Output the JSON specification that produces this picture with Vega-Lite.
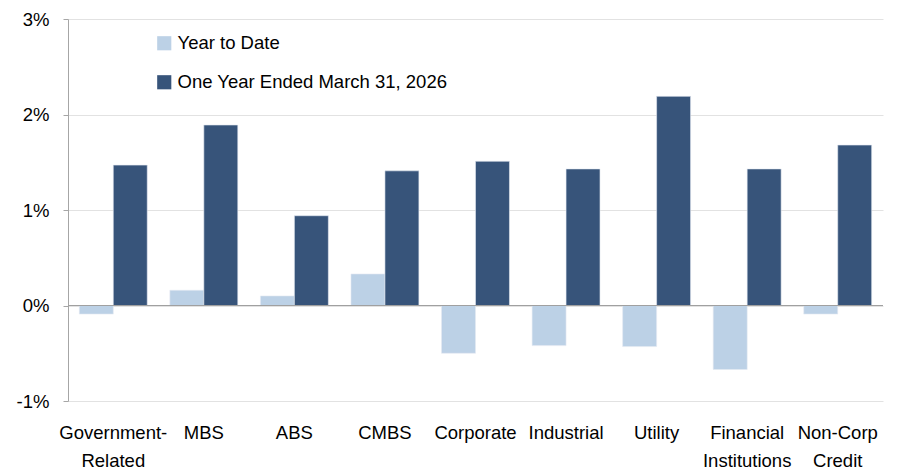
{
  "$schema": "https://vega.github.io/schema/vega-lite/v6.json",
  "autosize": "none",
  "width": 815,
  "height": 382,
  "padding": {"left": 68, "top": 19, "right": 17, "bottom": 71},
  "background": "white",
  "config": {
    "view": {"stroke": null},
    "font": "Liberation Sans",
    "axis": {"labelFont": "Liberation Sans", "labelColor": "#000000"},
    "legend": {"labelFont": "Liberation Sans"}
  },
  "data": {
    "values": [
      {"category": "Government-Related", "series": "Year to Date", "value": -0.09},
      {"category": "Government-Related", "series": "One Year Ended March 31, 2026", "value": 1.47},
      {"category": "MBS", "series": "Year to Date", "value": 0.16},
      {"category": "MBS", "series": "One Year Ended March 31, 2026", "value": 1.89},
      {"category": "ABS", "series": "Year to Date", "value": 0.10},
      {"category": "ABS", "series": "One Year Ended March 31, 2026", "value": 0.94},
      {"category": "CMBS", "series": "Year to Date", "value": 0.33},
      {"category": "CMBS", "series": "One Year Ended March 31, 2026", "value": 1.41},
      {"category": "Corporate", "series": "Year to Date", "value": -0.50},
      {"category": "Corporate", "series": "One Year Ended March 31, 2026", "value": 1.51},
      {"category": "Industrial", "series": "Year to Date", "value": -0.42},
      {"category": "Industrial", "series": "One Year Ended March 31, 2026", "value": 1.43},
      {"category": "Utility", "series": "Year to Date", "value": -0.43},
      {"category": "Utility", "series": "One Year Ended March 31, 2026", "value": 2.19},
      {"category": "Financial Institutions", "series": "Year to Date", "value": -0.67},
      {"category": "Financial Institutions", "series": "One Year Ended March 31, 2026", "value": 1.43},
      {"category": "Non-Corp Credit", "series": "Year to Date", "value": -0.09},
      {"category": "Non-Corp Credit", "series": "One Year Ended March 31, 2026", "value": 1.68}
    ]
  },
  "layer": [
    {
      "mark": {"type": "bar", "stroke": "#e4eaf1", "strokeWidth": 0.6},
      "encoding": {
        "x": {
          "field": "category",
          "type": "nominal",
          "sort": ["Government-Related", "MBS", "ABS", "CMBS", "Corporate", "Industrial", "Utility", "Financial Institutions", "Non-Corp Credit"],
          "scale": {"paddingInner": 0.25, "paddingOuter": 0.125},
          "axis": {
            "title": null,
            "domain": false,
            "ticks": false,
            "labelAngle": 0,
            "labelFontSize": 18.5,
            "labelPadding": 22,
            "labelLineHeight": 28,
            "labelBaseline": "top",
            "labelLimit": 0,
            "labelExpr": "datum.label == 'Government-Related' ? ['Government-', 'Related'] : datum.label == 'Financial Institutions' ? ['Financial', 'Institutions'] : datum.label == 'Non-Corp Credit' ? ['Non-Corp', 'Credit'] : datum.label"
          }
        },
        "xOffset": {
          "field": "series",
          "type": "nominal",
          "sort": ["Year to Date", "One Year Ended March 31, 2026"]
        },
        "y": {
          "field": "value",
          "type": "quantitative",
          "scale": {"domain": [-1, 3], "nice": false, "zero": false},
          "axis": {
            "title": null,
            "values": [-1, 0, 1, 2, 3],
            "labelExpr": "datum.value + '%'",
            "labelFontSize": 18.5,
            "labelPadding": 14,
            "tickSize": 5,
            "tickColor": "#a6a6a6",
            "domainColor": "#a6a6a6",
            "gridColor": "#e2e2e2",
            "grid": true
          }
        },
        "color": {
          "field": "series",
          "type": "nominal",
          "sort": ["Year to Date", "One Year Ended March 31, 2026"],
          "scale": {
            "domain": ["Year to Date", "One Year Ended March 31, 2026"],
            "range": ["#bcd1e6", "#37547a"]
          },
          "legend": {
            "title": null,
            "orient": "none",
            "legendX": 87,
            "legendY": 15,
            "symbolType": "square",
            "symbolSize": 200,
            "symbolStrokeWidth": 0,
            "labelFontSize": 18.5,
            "labelColor": "#000000",
            "labelOffset": 4,
            "labelLimit": 0,
            "rowPadding": 20,
            "padding": 0
          }
        }
      }
    },
    {
      "mark": {"type": "rule", "color": "#a0a0a0", "strokeWidth": 1.2},
      "encoding": {"y": {"datum": 0}}
    }
  ]
}
